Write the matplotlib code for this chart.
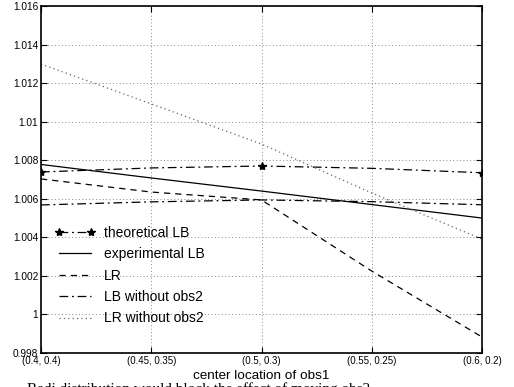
import numpy as np
import matplotlib
matplotlib.use('Agg')
import matplotlib.pyplot as plt

# x categories: center location of obs1
locations = ['(0.4, 0.4)', '(0.45, 0.35)', '(0.5, 0.3)', '(0.55, 0.25)', '(0.6, 0.2)']

theoretical_lb = [1.00739, 1.00760, 1.00770, 1.00758, 1.00735]
experimental_lb = [1.00778, 1.00708, 1.00640, 1.00570, 1.00500]
lr = [1.00703, 1.00635, 1.00594, 1.00225, 0.99883]
lb_without_obs2 = [1.00568, 1.00584, 1.00594, 1.00585, 1.00569]
lr_without_obs2 = [1.01299, 1.01092, 1.00884, 1.00630, 1.00391]

yticks = [0.998, 1.0, 1.002, 1.004, 1.006, 1.008, 1.01, 1.012, 1.014, 1.016]
ytick_labels = ['0.998', '1', '1.002', '1.004', '1.006', '1.008', '1.01', '1.012', '1.014', '1.016']

plt.rcParams['font.family'] = ['Liberation Sans', 'DejaVu Sans']

fig = plt.figure(figsize=(5.14, 3.87), dpi=100)
ax = fig.add_axes([41 / 514, 1 - 353 / 387, 441 / 514, 347 / 387])

x = np.arange(len(locations))
ax.plot(x, theoretical_lb, color='black', lw=0.9, ls=(0, (7, 3, 1.5, 3)),
        marker='*', markersize=6, markevery=2, label='theoretical LB')
ax.plot(x, experimental_lb, color='black', lw=0.9, ls='-', label='experimental LB')
ax.plot(x, lr, color='black', lw=0.9, ls=(0, (5, 4)), label='LR')
ax.plot(x, lb_without_obs2, color='black', lw=0.9, ls=(0, (7, 3, 1.5, 3)), label='LB without obs2')
ax.plot(x, lr_without_obs2, color='#666666', lw=0.9, ls=(0, (1, 2.5)), label='LR without obs2')

ax.set_xlim(0, 4)
ax.set_ylim(0.998, 1.016)
ax.set_xticks(x)
ax.set_xticklabels(locations, fontsize=7)
ax.set_yticks(yticks)
ax.set_yticklabels(ytick_labels, fontsize=7.3)
ax.tick_params(direction='in', length=4, width=0.8, top=True, right=True, pad=2)
ax.grid(True, color='#888888', ls=(0, (1, 2.5)), lw=0.7)
for s in ax.spines.values():
    s.set_linewidth(1.2)

ax.set_xlabel('center location of obs1', fontsize=9.7, labelpad=3)

leg = ax.legend(loc='upper left', bbox_to_anchor=(14 / 441, 1 - 220 / 347), frameon=False,
                fontsize=10, handlelength=2.9, handletextpad=0.6, labelspacing=0.53,
                borderaxespad=0, borderpad=0, numpoints=2)

# caption text cut off at bottom of the figure
fig.text(27 / 514, 5 / 387, 'Radi distribution would block the effect of moving obs2',
         family='Liberation Serif', fontsize=11, va='top', ha='left')

fig.savefig('out.png', dpi=100)
